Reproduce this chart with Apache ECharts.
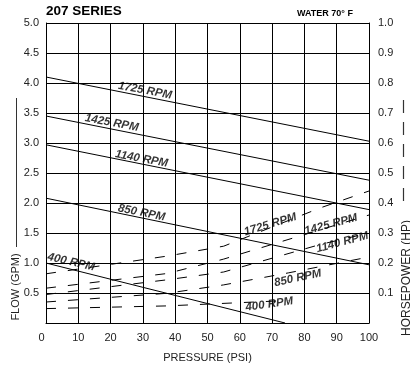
<!DOCTYPE html>
<html>
<head>
<meta charset="utf-8">
<script src="https://cdn.jsdelivr.net/npm/echarts@6/dist/echarts.min.js"></script>
<style>
  html, body { margin: 0; padding: 0; background: #fff; }
  #chart { width: 410px; height: 368px; }
</style>
</head>
<body>
<div id="chart"></div>
<script>
// Pump performance: flow (solid, left axis) and horsepower (dashed, right axis) vs pressure.
const rpmNames = ['1725 RPM', '1425 RPM', '1140 RPM', '850 RPM', '400 RPM'];

// Flow curves, [pressure PSI, flow GPM]
const flow1725 = [[0, 4.10], [100, 3.03]];
const flow1425 = [[0, 3.45], [100, 2.38]];
const flow1140 = [[0, 2.97], [100, 1.89]];
const flow850  = [[0, 2.08], [100, 0.97]];
const flow400  = [[0, 1.00], [74, 0.00]];

// Horsepower curves, [pressure PSI, HP]
const hp1725 = [[0, 0.164], [37.5, 0.223], [55, 0.256], [85, 0.384], [100, 0.440]];
const hp1425 = [[0, 0.116], [37.5, 0.165], [55, 0.213], [100, 0.360]];
const hp1140 = [[0, 0.095], [37.5, 0.144], [55, 0.170], [85, 0.262], [100, 0.300]];
const hp850  = [[0, 0.070], [37.5, 0.099], [55, 0.127], [75, 0.167], [100, 0.220]];
const hp400  = [[0, 0.048], [37.5, 0.057], [75, 0.075]];

// Axis ticks
const pressureTicks = [0, 10, 20, 30, 40, 50, 60, 70, 80, 90, 100];
const flowTicks = [0.5, 1.0, 1.5, 2.0, 2.5, 3.0, 3.5, 4.0, 4.5, 5.0];
const hpTicks = [0.1, 0.2, 0.3, 0.4, 0.5, 0.6, 0.7, 0.8, 0.9, 1.0];

const flowCurves = [flow1725, flow1425, flow1140, flow850, flow400];
const hpCurves = [hp1725, hp1425, hp1140, hp850, hp400];

// Where each curve label sits along its curve (pressure), plus pixel nudge and tilt
const flowLabelPsi = [30.3, 20.0, 29.3, 29.3, 7.3];
const flowLabelNudge = [-6, -6, -5, -5, -7];
const flowLabelTilt = [-10.5, -10.5, -10.5, -11, -13];
const hpLabelPsi = [69.7, 88.4, 91.5, 77.5, 69.0];
const hpLabelNudge = [-3, -2, 3, 7, 3];
const hpLabelTilt = [17, 15, 15, 12, 8];

const FONT = '"Liberation Sans", Arial, Helvetica, sans-serif';
const INK = '#000';

function valueAt(points, x) {
  for (let i = 1; i < points.length; i++) {
    const a = points[i - 1], b = points[i];
    if (x <= b[0]) {
      const t = (x - a[0]) / (b[0] - a[0]);
      return a[1] + t * (b[1] - a[1]);
    }
  }
  return points[points.length - 1][1];
}

function curveSeries(points, yAxisIndex, dashed) {
  return {
    type: 'line',
    yAxisIndex: yAxisIndex,
    data: points,
    showSymbol: false,
    silent: true,
    animation: false,
    z: 3,
    lineStyle: {
      color: INK,
      width: 1,
      type: dashed ? [10, 12] : 'solid'
    }
  };
}

function labelSeries(name, points, psi, yAxisIndex, nudge, tilt) {
  return {
    type: 'scatter',
    yAxisIndex: yAxisIndex,
    symbol: 'circle',
    symbolSize: 1,
    silent: true,
    animation: false,
    z: 5,
    itemStyle: { color: 'transparent' },
    data: [[psi, valueAt(points, psi)]],
    label: {
      show: true,
      position: 'inside',
      formatter: name,
      rotate: tilt,
      offset: [0, nudge],
      fontFamily: FONT,
      fontSize: 11.5,
      fontWeight: 'bold',
      fontStyle: 'italic',
      color: INK
    }
  };
}

const series = [];
flowCurves.forEach(function (c) { series.push(curveSeries(c, 0, false)); });
hpCurves.forEach(function (c) { series.push(curveSeries(c, 1, true)); });
rpmNames.forEach(function (n, i) {
  series.push(labelSeries(n, flowCurves[i], flowLabelPsi[i], 0, flowLabelNudge[i], flowLabelTilt[i]));
  series.push(labelSeries(n, hpCurves[i], hpLabelPsi[i], 1, hpLabelNudge[i], hpLabelTilt[i]));
});

const tickText = { fontFamily: FONT, fontSize: 11, color: '#222' };

const option = {
  animation: false,
  backgroundColor: '#fff',
  grid: { left: 46, right: 41, top: 23, bottom: 40, containLabel: false },
  xAxis: {
    type: 'value',
    min: 0, max: 100, interval: 10,
    axisLine: { show: true, lineStyle: { color: INK, width: 1 } },
    axisTick: { show: false },
    splitLine: { show: true, lineStyle: { color: INK, width: 1 } },
    axisLabel: Object.assign({
      margin: 9,
      formatter: function (v) {
        return pressureTicks.indexOf(v) < 0 ? '' : (v === 0 ? '{z|0}' : String(v));
      },
      rich: { z: { fontFamily: FONT, fontSize: 11, color: '#222', padding: [0, 9, 0, 0] } }
    }, tickText),
    name: 'PRESSURE (PSI)',
    nameLocation: 'middle',
    nameGap: 29,
    nameTextStyle: tickText
  },
  yAxis: [
    {
      type: 'value',
      min: 0, max: 5, interval: 0.5,
      axisLine: { show: true, lineStyle: { color: INK, width: 1 } },
      axisTick: { show: false },
      splitLine: { show: true, lineStyle: { color: INK, width: 1 } },
      axisLabel: Object.assign({
        margin: 7,
        formatter: function (v) {
          const hit = flowTicks.find(function (t) { return Math.abs(t - v) < 1e-6; });
          return hit === undefined ? '' : hit.toFixed(1);
        }
      }, tickText)
    },
    {
      type: 'value',
      position: 'right',
      min: 0, max: 1, interval: 0.1,
      axisLine: { show: true, lineStyle: { color: INK, width: 1 } },
      axisTick: { show: false },
      splitLine: { show: false },
      axisLabel: Object.assign({
        margin: 9,
        formatter: function (v) {
          const hit = hpTicks.find(function (t) { return Math.abs(t - v) < 1e-6; });
          return hit === undefined ? '' : hit.toFixed(1);
        }
      }, tickText)
    }
  ],
  graphic: [
    {
      type: 'text', left: 46, top: 4,
      style: { text: '207 SERIES', fontFamily: FONT, fontSize: 13.5, fontWeight: 'bold', fill: INK }
    },
    {
      type: 'text', left: 297, top: 9,
      style: { text: 'WATER 70° F', fontFamily: FONT, fontSize: 9, fontWeight: 'bold', fill: INK }
    },
    {
      type: 'line', silent: true,
      shape: { x1: 16.5, y1: 98, x2: 16.5, y2: 247 },
      style: { stroke: '#333', lineWidth: 1 }
    },
    {
      type: 'text', x: 16, y: 287, rotation: Math.PI / 2,
      style: { text: 'FLOW (GPM)', fontFamily: FONT, fontSize: 11, fill: '#222',
               align: 'center', verticalAlign: 'middle' }
    },
    {
      type: 'line', silent: true,
      shape: { x1: 403.5, y1: 100, x2: 403.5, y2: 201 },
      style: { stroke: '#333', lineWidth: 1.2, lineDash: [13, 9] }
    },
    {
      type: 'text', x: 407, y: 278, rotation: Math.PI / 2,
      style: { text: 'HORSEPOWER (HP)', fontFamily: FONT, fontSize: 12, fill: '#222',
               align: 'center', verticalAlign: 'middle' }
    }
  ],
  series: series
};

const chart = echarts.init(document.getElementById('chart'), null, { renderer: 'canvas' });
chart.setOption(option);
</script>
</body>
</html>
